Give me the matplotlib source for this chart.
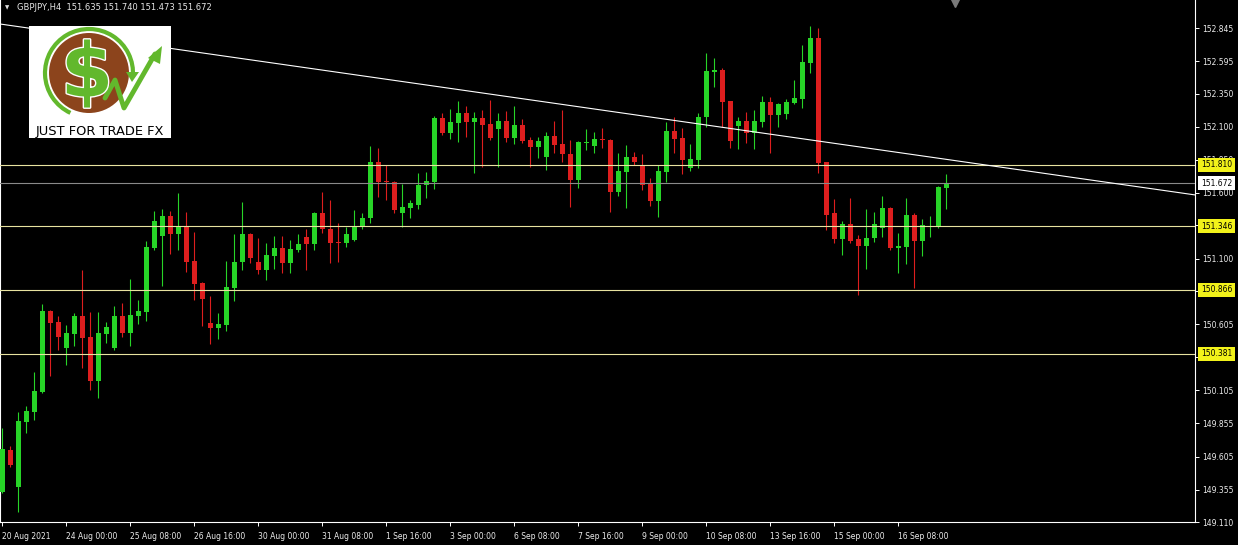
import numpy as np
import matplotlib
matplotlib.use('Agg')
import matplotlib.pyplot as plt
import matplotlib.patches as mpatches
import matplotlib.transforms as mtransforms
import matplotlib.patheffects as pe

plt.rcParams['font.family'] = ['DejaVu Sans']

# GBPJPY H4 candles
opens = [149.337, 149.655, 149.375, 149.866, 149.942, 150.093, 150.706, 150.622, 150.426, 150.532,
         150.668, 150.509, 150.176, 150.532, 150.426, 150.668, 150.539, 150.668, 150.698, 151.182,
         151.273, 151.424, 151.288, 151.341, 151.084, 150.917, 150.615, 150.577, 150.600, 150.879,
         151.076, 151.288, 151.076, 151.016, 151.121, 151.182, 151.068, 151.167, 151.265, 151.212,
         151.447, 151.326, 151.227, 151.220, 151.242, 151.341, 151.409, 151.832, 151.688, 151.681,
         151.447, 151.484, 151.507, 151.658, 151.681, 152.165, 152.051, 152.127, 152.203, 152.135,
         152.165, 152.119, 152.082, 152.142, 152.014, 152.112, 151.998, 151.946, 151.870, 152.029,
         151.968, 151.893, 151.696, 151.976, 151.953, 152.006, 151.998, 151.605, 151.757, 151.870,
         151.809, 151.673, 151.537, 151.757, 152.066, 152.014, 151.787, 151.847, 152.172, 152.513,
         152.528, 152.293, 152.104, 152.142, 152.051, 152.135, 152.286, 152.187, 152.195, 152.278,
         152.308, 152.581, 152.770, 151.832, 151.447, 151.250, 151.363, 151.250, 151.197, 151.257,
         151.333, 151.484, 151.182, 151.189, 151.431, 151.235, 151.341, 151.341, 151.635]
highs = [149.821, 149.685, 149.942, 149.987, 150.244, 150.758, 150.712, 150.668, 150.600, 150.690,
         151.016, 150.698, 150.698, 150.622, 150.743, 150.766, 150.947, 150.789, 151.235, 151.462,
         151.477, 151.462, 151.598, 151.454, 151.303, 150.925, 150.819, 150.690, 151.084, 151.288,
         151.530, 151.295, 151.258, 151.220, 151.273, 151.273, 151.242, 151.288, 151.326, 151.454,
         151.605, 151.545, 151.371, 151.341, 151.469, 151.447, 151.953, 151.938, 151.809, 151.688,
         151.666, 151.545, 151.749, 151.757, 152.180, 152.203, 152.233, 152.293, 152.256, 152.210,
         152.225, 152.301, 152.203, 152.218, 152.256, 152.157, 152.021, 152.021, 152.059, 152.142,
         152.225, 151.998, 151.991, 152.082, 152.059, 152.089, 152.006, 151.900, 151.961, 151.908,
         151.893, 151.711, 151.809, 152.135, 152.172, 152.089, 151.968, 152.203, 152.656, 152.618,
         152.543, 152.293, 152.172, 152.210, 152.225, 152.331, 152.324, 152.278, 152.308, 152.452,
         152.717, 152.860, 152.845, 151.832, 151.552, 151.386, 151.560, 151.280, 151.477, 151.454,
         151.575, 151.490, 151.295, 151.560, 151.447, 151.401, 151.424, 151.650, 151.740]
lows = [149.329, 149.526, 149.186, 149.783, 149.881, 150.086, 150.214, 150.411, 150.297, 150.441,
        150.275, 150.108, 150.048, 150.464, 150.411, 150.509, 150.441, 150.607, 150.630, 151.167,
        150.895, 151.137, 151.167, 151.000, 150.789, 150.592, 150.456, 150.494, 150.554, 150.781,
        151.016, 151.068, 150.985, 150.940, 151.023, 150.993, 150.993, 151.152, 151.016, 151.167,
        151.295, 151.068, 151.076, 151.189, 151.235, 151.326, 151.371, 151.568, 151.545, 151.447,
        151.341, 151.409, 151.477, 151.560, 151.628, 152.036, 152.006, 151.983, 152.021, 151.749,
        151.794, 151.998, 151.794, 151.983, 151.968, 151.976, 151.794, 151.862, 151.772, 151.900,
        151.832, 151.492, 151.636, 151.923, 151.900, 151.938, 151.454, 151.575, 151.484, 151.809,
        151.620, 151.499, 151.416, 151.681, 151.900, 151.741, 151.764, 151.787, 152.097, 152.399,
        152.097, 151.938, 151.930, 151.976, 151.930, 152.097, 151.900, 152.097, 152.157, 152.271,
        152.240, 152.505, 151.749, 151.318, 151.220, 151.129, 151.220, 150.827, 151.023, 151.227,
        151.265, 151.167, 150.993, 151.061, 150.879, 151.121, 151.265, 151.333, 151.473]
closes = [149.662, 149.541, 149.874, 149.949, 150.101, 150.706, 150.615, 150.509, 150.539, 150.668,
          150.501, 150.176, 150.539, 150.585, 150.668, 150.539, 150.675, 150.706, 151.189, 151.386,
          151.424, 151.288, 151.341, 151.076, 150.910, 150.796, 150.577, 150.607, 150.887, 151.076,
          151.288, 151.106, 151.016, 151.129, 151.182, 151.068, 151.174, 151.212, 151.212, 151.447,
          151.326, 151.220, 151.220, 151.288, 151.341, 151.409, 151.832, 151.681, 151.681, 151.469,
          151.492, 151.522, 151.658, 151.688, 152.165, 152.051, 152.135, 152.203, 152.135, 152.165,
          152.112, 152.014, 152.142, 152.014, 152.112, 151.991, 151.946, 151.991, 152.029, 151.961,
          151.893, 151.696, 151.983, 151.983, 152.006, 151.998, 151.605, 151.764, 151.870, 151.832,
          151.658, 151.537, 151.764, 152.066, 152.006, 151.847, 151.855, 152.172, 152.520, 152.528,
          152.286, 151.991, 152.142, 152.051, 152.142, 152.286, 152.187, 152.271, 152.286, 152.316,
          152.588, 152.770, 151.825, 151.431, 151.250, 151.363, 151.235, 151.197, 151.257, 151.363,
          151.484, 151.182, 151.197, 151.431, 151.235, 151.356, 151.348, 151.643, 151.672]

tick_bars = [0, 8, 16, 24, 32, 40, 48, 56, 64, 72, 80, 88, 96, 104, 112]
tick_labels = ['20 Aug 2021', '24 Aug 00:00', '25 Aug 08:00', '26 Aug 16:00', '30 Aug 00:00',
               '31 Aug 08:00', '1 Sep 16:00', '3 Sep 00:00', '6 Sep 08:00', '7 Sep 16:00',
               '9 Sep 00:00', '10 Sep 08:00', '13 Sep 16:00', '15 Sep 00:00', '16 Sep 08:00']
price_ticks = [152.845, 152.595, 152.350, 152.100, 151.850, 151.600, 151.355, 151.100,
               150.855, 150.605, 150.355, 150.105, 149.855, 149.605, 149.355, 149.110]
levels = [151.810, 151.346, 150.866, 150.381]
bid = 151.672
trend_a = (0, 152.873)
trend_b = (118, 151.852)
header = 'GBPJPY,H4  151.635 151.740 151.473 151.672'

W, H = 1238, 545
fig = plt.figure(figsize=(W / 100, H / 100), dpi=100, facecolor='black')
ax = fig.add_axes([0, 23 / H, 1195 / W, 522 / H])
ax.set_facecolor('black')

o = np.array(opens)
h = np.array(highs)
l = np.array(lows)
c = np.array(closes)
x = np.arange(len(o))
cols = np.where(c >= o, '#27d427', '#dd1e1e')

ax.vlines(x, l, h, colors=cols, lw=0.8, zorder=2)
body = np.maximum(np.abs(c - o), 0.006)
ax.bar(x, body, bottom=np.minimum(o, c), width=0.62, color=cols, lw=0, zorder=3)

# horizontal levels, bid line and trend line
for lv in levels:
    ax.axhline(lv, color='#e8e3a0', lw=0.8, zorder=4)
ax.axhline(bid, color='#8a8a8a', lw=0.8, zorder=4)
ax.axline(trend_a, trend_b, color='white', lw=0.8, zorder=4)

ax.set_xlim(-0.3, 149.07)
ax.set_ylim(149.110, 153.057)

ax.set_xticks(tick_bars)
ax.set_xticklabels(tick_labels, ha='left')
ax.yaxis.tick_right()
ax.set_yticks(price_ticks)
ax.set_yticklabels([f'{p:.3f}' for p in price_ticks])
ax.tick_params(axis='both', colors='white', labelcolor='#ececec', labelsize=5.5,
               length=3, width=0.7)
ax.tick_params(axis='y', pad=2)
ax.tick_params(axis='x', pad=4)

ax.spines['top'].set_visible(False)
for s in ['left', 'right', 'bottom']:
    ax.spines[s].set_color('white')
    ax.spines[s].set_linewidth(0.8)

# price boxes on the right scale
trans = mtransforms.blended_transform_factory(ax.transAxes, ax.transData)
for lv in levels:
    ax.text(1.005, lv, f'{lv:.3f}', transform=trans, va='center', ha='left', fontsize=5.5,
            color='black', zorder=6, clip_on=False,
            bbox=dict(boxstyle='square,pad=0.35', fc='#f2f21a', ec='none'))
ax.text(1.005, bid, f'{bid:.3f}', transform=trans, va='center', ha='left', fontsize=5.5,
        color='black', zorder=6, clip_on=False,
        bbox=dict(boxstyle='square,pad=0.35', fc='white', ec='none'))

# chart shift marker
ax.plot([955 / 1195], [0.994], marker='v', ms=6, color='#7a7a7a', transform=ax.transAxes,
        clip_on=False, zorder=6)

# header
fig.text(5 / W, 1 - 8 / H, '\u25bc', fontsize=4, color='#e0e0e0', va='center')
fig.text(17 / W, 1 - 8 / H, header, fontsize=6.0, color='#e6e6e6', va='center')

# logo
lg = fig.add_axes([29 / W, 1 - 138 / H, 142 / W, 112 / H])
lg.set_xlim(0, 142)
lg.set_ylim(0, 112)
lg.set_facecolor('white')
lg.set_xticks([])
lg.set_yticks([])
for s in lg.spines.values():
    s.set_visible(False)
green = '#62b82c'
lg.add_patch(mpatches.Circle((60, 65), 40, fc='#8c441c', ec='none'))
lg.add_patch(mpatches.Arc((60, 65), 88, 88, theta1=-5, theta2=245, color=green, lw=3))
lg.add_patch(mpatches.Polygon([[97, 66], [110, 66], [103, 56]], closed=True, fc=green, ec='none'))
lg.text(58, 62, '$', fontsize=54, fontweight='bold', color=green, ha='center', va='center',
        path_effects=[pe.withStroke(linewidth=2, foreground='white')])
lg.plot([76, 86, 95, 126], [40, 58, 30, 84], color=green, lw=3.5, solid_capstyle='round')
lg.add_patch(mpatches.Polygon([[119, 80], [133, 92], [131, 74]], closed=True, fc=green, ec='none'))
lg.text(71, 6, 'JUST FOR TRADE FX', fontsize=9.4, color='black', ha='center', va='center')

fig.savefig('out.png', dpi=100, facecolor='black')
